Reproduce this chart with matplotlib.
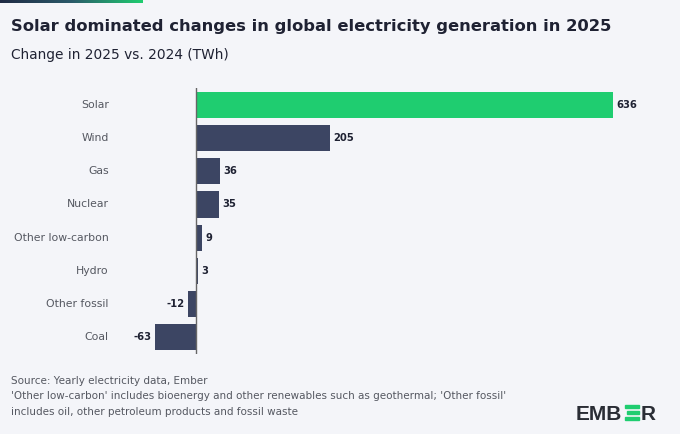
import matplotlib.pyplot as plt
import matplotlib.patches as mpatches
from matplotlib.colors import LinearSegmentedColormap
import numpy as np

categories = ["Solar", "Wind", "Gas", "Nuclear", "Other low-carbon", "Hydro", "Other fossil", "Coal"]
values = [636, 205, 36, 35, 9, 3, -12, -63]
bar_colors = ["#1fcd70", "#3c4563", "#3c4563", "#3c4563", "#3c4563", "#3c4563", "#3c4563", "#3c4563"]

bg = "#f4f5f9"
dark = "#1f2233"
grey = "#555861"

fig = plt.figure(figsize=(6.8, 4.34), dpi=100, facecolor=bg)

# gradient strip along the top edge
strip = fig.add_axes([0, 1 - 3 / 434, 143 / 680, 3 / 434])
grad = np.linspace(0, 1, 256).reshape(1, -1)
cmap = LinearSegmentedColormap.from_list("ember", ["#1f2a44", "#2b5a6a", "#1fcd70"])
strip.imshow(grad, aspect="auto", cmap=cmap)
strip.axis("off")

ax = fig.add_axes([120 / 680, 80 / 434, 520 / 680, 266 / 434])
ax.set_facecolor(bg)
y = np.arange(len(categories))
ax.barh(y, values, height=0.79, color=bar_colors, zorder=2)
ax.axvline(0, color="#666666", lw=1, zorder=3)
ax.set_xlim(-115.9, 677.3)
ax.set_ylim(7.51, -0.513)
for s in ax.spines.values():
    s.set_visible(False)
ax.set_xticks([])
ax.set_yticks([])

for i, v in enumerate(values):
    if v >= 0:
        ax.text(v + 5, i, str(v), ha="left", va="center", fontsize=7.2, fontweight="bold", color=dark)
    else:
        ax.text(v - 5, i, str(v), ha="right", va="center",
                fontsize=7.2, fontweight="bold", color=dark)
    ax.text(-133, i, categories[i], ha="right", va="center", fontsize=7.8, color=grey,
            clip_on=False)

fig.text(11 / 680, 1 - 27 / 434, "Solar dominated changes in global electricity generation in 2025",
         fontsize=11.8, fontweight="bold", color=dark, va="center", ha="left")
fig.text(11 / 680, 1 - 55 / 434, "Change in 2025 vs. 2024 (TWh)",
         fontsize=9.9, color=dark, va="center", ha="left")

foot = ("Source: Yearly electricity data, Ember\n"
        "'Other low-carbon' includes bioenergy and other renewables such as geothermal; 'Other fossil'\n"
        "includes oil, other petroleum products and fossil waste")
fig.text(11 / 680, 1 - 376 / 434, foot, fontsize=7.5, color=grey, va="top", ha="left",
         linespacing=1.68)

# EMBER logo
logo_font = dict(fontsize=15, fontweight="bold", color="#2a2d35", family="Liberation Sans",
                 va="baseline")
fig.text(622 / 680, 1 - 420 / 434, "EMB", ha="right", **logo_font)
fig.text(641 / 680, 1 - 420 / 434, "R", ha="left", **logo_font)
for k, (x0, w) in enumerate([(625, 14), (627, 12), (625, 14)]):
    fig.patches.append(mpatches.Rectangle((x0 / 680, 1 - (408 + 6 * k) / 434), w / 680, 3 / 434,
                                          transform=fig.transFigure, color="#1fcd70"))

fig.savefig("out.png", dpi=100, facecolor=bg)
